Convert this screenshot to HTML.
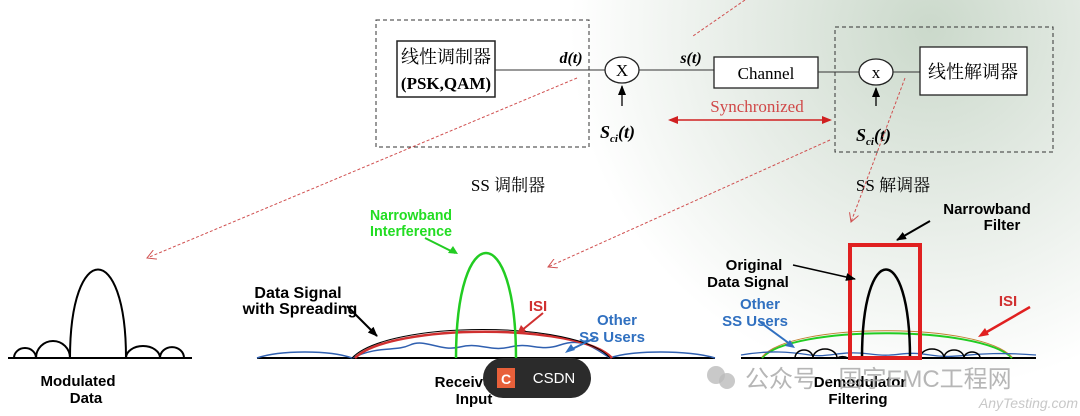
<!DOCTYPE html>
<html><head><meta charset="utf-8"><style>
html,body{margin:0;padding:0;background:#fff;}
svg{display:block;}
.s{font-family:"Liberation Serif","Noto Serif CJK SC",serif;}
.a{font-family:"Liberation Sans","Noto Sans CJK SC",sans-serif;font-weight:bold;}
</style></head><body>
<svg width="1080" height="416" viewBox="0 0 1080 416" xmlns="http://www.w3.org/2000/svg">
<defs>
<radialGradient id="bg" cx="930" cy="30" r="360" gradientUnits="userSpaceOnUse">
<stop offset="0" stop-color="#cbd9cb"/><stop offset="0.45" stop-color="#e3eae3"/><stop offset="1" stop-color="#ffffff"/>
</radialGradient>
<marker id="ra" markerWidth="10" markerHeight="10" refX="9" refY="5" orient="auto" markerUnits="userSpaceOnUse"><path d="M0,0 L9,5 L0,10" fill="none" stroke="#d05050" stroke-width="1"/></marker>
<marker id="ka" markerWidth="10" markerHeight="10" refX="9" refY="5" orient="auto" markerUnits="userSpaceOnUse"><path d="M0,1 L10,5 L0,9z" fill="#000"/></marker>
</defs>
<rect width="1080" height="416" fill="url(#bg)"/>
<rect x="376" y="20" width="213" height="127" fill="none" stroke="#333" stroke-dasharray="4,3"/>
<rect x="835" y="27" width="218" height="125" fill="none" stroke="#333" stroke-dasharray="4,3"/>
<rect x="397" y="41" width="98" height="56" fill="#fff" stroke="#222" stroke-width="1.5"/>
<text x="446" y="63" class="s" font-size="18" text-anchor="middle">线性调制器</text>
<text x="446" y="89" class="s" font-size="17" font-weight="bold" text-anchor="middle">(PSK,QAM)</text>
<line x1="495" y1="70" x2="605" y2="70" stroke="#333"/>
<text x="571" y="63" class="s" font-size="16" font-style="italic" font-weight="bold" text-anchor="middle">d(t)</text>
<ellipse cx="622" cy="70" rx="17" ry="13" fill="#fff" stroke="#222" stroke-width="1.3"/>
<text x="622" y="76" class="s" font-size="17" text-anchor="middle">X</text>
<line x1="622" y1="106" x2="622" y2="86" stroke="#000" stroke-width="1.3" marker-end="url(#ka)"/>
<text x="600" y="138" class="s" font-size="18" font-style="italic" font-weight="bold">S<tspan font-size="11" dy="4">ci</tspan><tspan dy="-4">(t)</tspan></text>
<line x1="639" y1="70" x2="714" y2="70" stroke="#333"/>
<text x="691" y="63" class="s" font-size="16" font-style="italic" font-weight="bold" text-anchor="middle">s(t)</text>
<rect x="714" y="57" width="104" height="31" fill="#fff" stroke="#222" stroke-width="1.3"/>
<text x="766" y="79" class="s" font-size="17" text-anchor="middle">Channel</text>
<line x1="818" y1="72" x2="859" y2="72" stroke="#333"/>
<ellipse cx="876" cy="72" rx="17" ry="13" fill="#fff" stroke="#222" stroke-width="1.3"/>
<text x="876" y="78" class="s" font-size="17" text-anchor="middle">x</text>
<line x1="893" y1="72" x2="920" y2="72" stroke="#333"/>
<line x1="876" y1="106" x2="876" y2="88" stroke="#000" stroke-width="1.3" marker-end="url(#ka)"/>
<rect x="920" y="47" width="107" height="48" fill="#fff" stroke="#222" stroke-width="1.3"/>
<text x="973" y="78" class="s" font-size="18" text-anchor="middle">线性解调器</text>
<text x="856" y="141" class="s" font-size="18" font-style="italic" font-weight="bold">S<tspan font-size="11" dy="4">ci</tspan><tspan dy="-4">(t)</tspan></text>
<text x="757" y="112" class="s" font-size="17" fill="#d04848" text-anchor="middle">Synchronized</text>
<line x1="670" y1="120" x2="830" y2="120" stroke="#d02020" stroke-width="1.5"/>
<path d="M668,120 l10,-4 l0,8z M832,120 l-10,-4 l0,8z" fill="#d02020"/>
<text x="508" y="191" class="s" font-size="17" text-anchor="middle">SS 调制器</text>
<text x="893" y="191" class="s" font-size="17" text-anchor="middle">SS 解调器</text>
<g stroke="#d05050" stroke-width="1" stroke-dasharray="3,2" fill="none">
<line x1="745" y1="0" x2="693" y2="36"/>
<line x1="577" y1="78" x2="147" y2="258" marker-end="url(#ra)"/>
<line x1="830" y1="140" x2="548" y2="267" marker-end="url(#ra)"/>
<line x1="905" y1="78" x2="851" y2="222" marker-end="url(#ra)"/>
</g>
<line x1="8" y1="358" x2="192" y2="358" stroke="#000" stroke-width="2"/>
<path d="M70,358 C70,240 126,240 126,358" fill="none" stroke="#000" stroke-width="2"/>
<path d="M14,358 a11,10 0 0 1 22,0 a11,11 0 0 1 34,0 M126,358 a17,12 0 0 1 34,0 a11,10 0 0 1 24,0" fill="none" stroke="#000" stroke-width="2"/>
<text x="78" y="386" class="a" font-size="15" text-anchor="middle">Modulated</text>
<text x="86" y="403" class="a" font-size="15" text-anchor="middle">Data</text>
<line x1="257" y1="358" x2="715" y2="358" stroke="#000" stroke-width="2"/>
<path d="M257,358 C280,350 330,350 352,358 M610,358 C630,350 690,350 715,358" fill="none" stroke="#3060b0" stroke-width="1.5"/>
<path d="M352,358 C380,345 395,352 410,345 S440,352 460,347 S490,352 510,347 S540,352 560,345 S590,345 610,358" fill="none" stroke="#3060b0" stroke-width="1.5"/>
<path d="M355,358 C390,323 580,323 612,358" fill="none" stroke="#d03030" stroke-width="2.5"/>
<path d="M352,358 C388,320 578,320 610,358" fill="none" stroke="#000" stroke-width="1"/>
<path d="M456,358 C456,218 516,218 516,358" fill="none" stroke="#22cc22" stroke-width="2.5"/>
<text x="411" y="220" class="a" font-size="15" fill="#22dd22" text-anchor="middle" textLength="82" lengthAdjust="spacingAndGlyphs">Narrowband</text>
<text x="411" y="236" class="a" font-size="15" fill="#22dd22" text-anchor="middle" textLength="82" lengthAdjust="spacingAndGlyphs">Interference</text>
<line x1="425" y1="238" x2="455" y2="253" stroke="#22cc22" stroke-width="2" />
<path d="M458,254 l-10,-1 l5,-7z" fill="#22cc22"/>
<text x="298" y="298" class="a" font-size="16" text-anchor="middle">Data Signal</text>
<text x="300" y="314" class="a" font-size="16" text-anchor="middle">with Spreading</text>
<line x1="347" y1="306" x2="377" y2="336" stroke="#000" stroke-width="2" marker-end="url(#ka)"/>
<text x="538" y="311" class="a" font-size="15" fill="#d03030" text-anchor="middle">ISI</text>
<line x1="543" y1="313" x2="521" y2="331" stroke="#d03030" stroke-width="2"/>
<path d="M517,334 l4,-9 l5,6z" fill="#d03030"/>
<text x="617" y="325" class="a" font-size="15" fill="#3070c0" text-anchor="middle">Other</text>
<text x="612" y="342" class="a" font-size="15" fill="#3070c0" text-anchor="middle">SS Users</text>
<line x1="595" y1="338" x2="570" y2="350" stroke="#3070c0" stroke-width="2"/>
<path d="M565,353 l6,-9 l4,6z" fill="#3070c0"/>
<text x="463" y="387" class="a" font-size="15" text-anchor="middle">Receive</text>
<text x="474" y="404" class="a" font-size="15" text-anchor="middle">Input</text>
<rect x="483" y="358" width="108" height="40" rx="20" fill="#2b2b2b"/>
<rect x="497" y="368" width="18" height="20" fill="#e8603a"/>
<text x="506" y="384" class="a" font-size="14" font-weight="normal" fill="#fff" text-anchor="middle">C</text>
<text x="554" y="383" font-family="Liberation Sans,sans-serif" font-size="15" fill="#fff" text-anchor="middle">CSDN</text>
<line x1="741" y1="358" x2="1036" y2="358" stroke="#000" stroke-width="2"/>
<path d="M762,358 C790,325 980,325 1012,358" fill="none" stroke="#22cc22" stroke-width="2"/>
<path d="M762,357 C790,322 980,322 1012,357" fill="none" stroke="#c08030" stroke-width="1"/>
<path d="M741,355 C770,350 790,352 810,355 S840,350 870,354 S900,350 930,355 S970,350 1036,355" fill="none" stroke="#3060b0" stroke-width="1.3"/>
<path d="M795,358 a9,8 0 0 1 18,0 a12,9 0 0 1 24,0 a10,8 0 0 1 11,0 M920,358 a12,9 0 0 1 24,0 a10,8 0 0 1 20,0 a8,6 0 0 1 16,0" fill="none" stroke="#000" stroke-width="1.5"/>
<path d="M862,358 C862,240 910,240 910,358" fill="none" stroke="#000" stroke-width="2.5"/>
<rect x="850" y="245" width="70" height="113" fill="none" stroke="#e02020" stroke-width="4"/>
<text x="987" y="214" class="a" font-size="15" text-anchor="middle">Narrowband</text>
<text x="1002" y="230" class="a" font-size="15" text-anchor="middle">Filter</text>
<line x1="930" y1="221" x2="897" y2="240" stroke="#000" stroke-width="2" marker-end="url(#ka)"/>
<text x="754" y="270" class="a" font-size="15" text-anchor="middle">Original</text>
<text x="748" y="287" class="a" font-size="15" text-anchor="middle">Data Signal</text>
<line x1="793" y1="265" x2="855" y2="279" stroke="#000" stroke-width="1.5" marker-end="url(#ka)"/>
<text x="760" y="309" class="a" font-size="15" fill="#3070c0" text-anchor="middle">Other</text>
<text x="755" y="326" class="a" font-size="15" fill="#3070c0" text-anchor="middle">SS Users</text>
<line x1="760" y1="322" x2="790" y2="344" stroke="#3070c0" stroke-width="2"/>
<path d="M795,348 l-10,-2 l5,-6z" fill="#3070c0"/>
<text x="1008" y="306" class="a" font-size="15" fill="#d03030" text-anchor="middle">ISI</text>
<line x1="1030" y1="307" x2="985" y2="333" stroke="#e02020" stroke-width="2.5"/>
<path d="M978,337 l7,-9 l4,7z" fill="#e02020"/>
<text x="860" y="387" class="a" font-size="15" text-anchor="middle">Demodulator</text>
<text x="858" y="404" class="a" font-size="15" text-anchor="middle">Filtering</text>
<circle cx="716" cy="375" r="9" fill="#bbb" opacity="0.8"/><circle cx="727" cy="381" r="8" fill="#bbb" opacity="0.8"/>
<text x="745" y="387" font-family="Liberation Sans,Noto Sans CJK SC,sans-serif" font-size="24" fill="#aaa" opacity="0.85">公众号 · 国宇EMC工程网</text>
<text x="1078" y="408" font-family="Liberation Sans,sans-serif" font-style="italic" font-size="14" fill="#c8c8c8" text-anchor="end">AnyTesting.com</text>
</svg>
</body></html>
